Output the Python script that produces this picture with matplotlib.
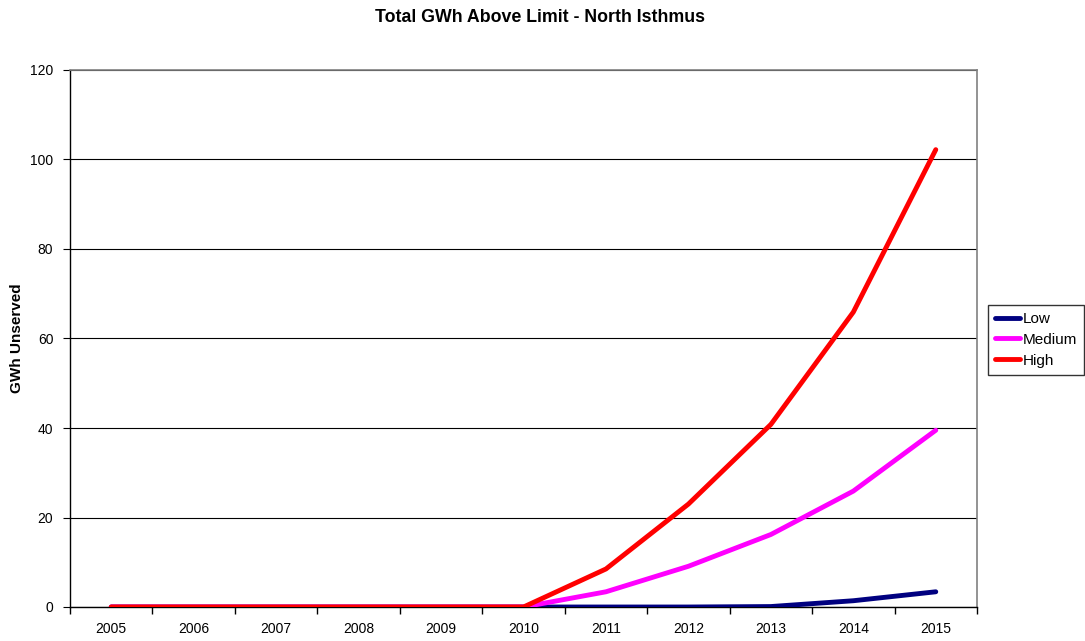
import matplotlib
matplotlib.use("Agg")
import matplotlib.pyplot as plt
import numpy as np

plt.rcParams['font.family'] = ['Liberation Sans', 'DejaVu Sans']

years = ['2005', '2006', '2007', '2008', '2009', '2010', '2011', '2012', '2013', '2014', '2015']
low = [0, 0, 0, 0, 0, 0, 0, 0, 0.1, 1.4, 3.4]
medium = [0, 0, 0, 0, 0, 0, 3.4, 9.1, 16.2, 25.9, 39.5]
high = [0, 0, 0, 0, 0, 0, 8.5, 23.0, 40.8, 65.9, 102.2]

W, H = 1085, 641
fig = plt.figure(figsize=(W / 100, H / 100), dpi=100)
ax = fig.add_axes([70 / W, (H - 607) / H, 907 / W, 537 / H])

x = np.arange(len(years))
ax.plot(x, low, color='#000080', lw=3.5, label='Low', solid_capstyle='round', zorder=3)
ax.plot(x, medium, color='#FF00FF', lw=3.5, label='Medium', solid_capstyle='round', zorder=4)
ax.plot(x, high, color='#FF0000', lw=3.5, label='High', solid_capstyle='round', zorder=5)

ax.set_xlim(-0.5, len(years) - 0.5)
ax.set_ylim(0, 120)
ax.set_yticks(np.arange(0, 121, 20))
ax.set_xticks(x)
ax.set_xticklabels(years)
ax.set_xticks(np.arange(-0.5, len(years), 1), minor=True)
ax.tick_params(axis='x', which='major', length=0, pad=11, labelsize=10)
ax.tick_params(axis='x', which='minor', length=5, direction='out', color='black', width=1)
ax.tick_params(axis='y', length=5, direction='out', labelsize=10, pad=7)

ax.yaxis.grid(True, color='black', lw=0.8)
ax.set_axisbelow(True)
for side in ['top', 'right']:
    ax.spines[side].set_color('#808080')
    ax.spines[side].set_linewidth(1.2)
for side in ['left', 'bottom']:
    ax.spines[side].set_color('black')
    ax.spines[side].set_linewidth(1)

fig.text(17 / W, 1 - 338 / H, 'GWh Unserved', rotation=90, ha='center', va='center',
         fontsize=11, fontweight='bold')
fig.text(540 / W, 1 - 17 / H, 'Total GWh Above Limit - North Isthmus',
         ha='center', va='center', fontsize=12.8, fontweight='bold')

leg = ax.legend(loc='upper left', bbox_to_anchor=(988 / W, 1 - 305 / H),
                bbox_transform=fig.transFigure, frameon=True, fancybox=False,
                edgecolor='black', fontsize=11, handlelength=1.65, handletextpad=0.15,
                borderpad=0.45, labelspacing=0.45, borderaxespad=0)
leg.get_frame().set_linewidth(1)

fig.savefig('out.png', dpi=100)
